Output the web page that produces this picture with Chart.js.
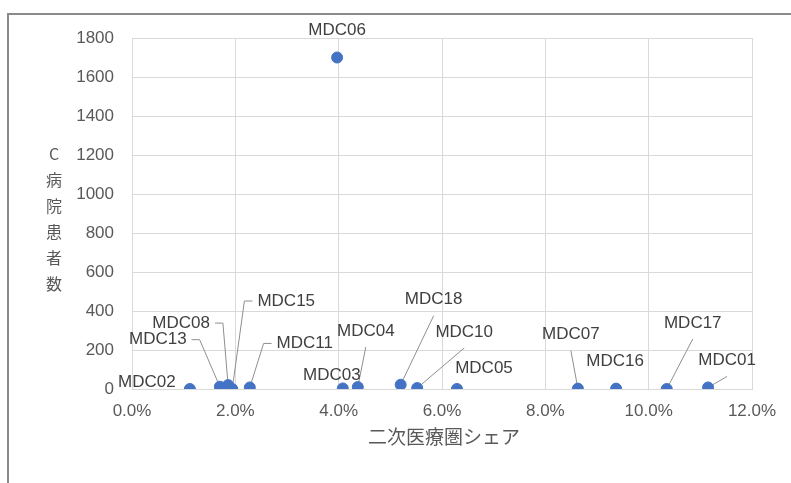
<!DOCTYPE html>
<html>
<head>
<meta charset="utf-8">
<script src="https://cdn.jsdelivr.net/npm/chart.js@4/dist/chart.umd.min.js"></script>
<style>
  html, body { margin: 0; padding: 0; background: #fff; }
  #wrap { width: 791px; height: 483px; position: relative; }
</style>
</head>
<body>
<div id="wrap"><canvas id="chart" width="791" height="483"></canvas></div>
<script>
// MDC categories, share of the secondary medical area (%), and hospital C patient counts
const categories = ['MDC01','MDC02','MDC03','MDC04','MDC05','MDC06','MDC07','MDC08',
                    'MDC10','MDC11','MDC13','MDC15','MDC16','MDC17','MDC18'];
const sharePercent = [11.15, 1.12, 4.08, 4.37, 6.29, 3.97, 8.63, 1.86,
                      5.52, 2.28, 1.70, 1.94, 9.37, 10.35, 5.20];
const patientCounts = [8, 0, 3, 10, 0, 1700, 2, 20,
                       5, 8, 12, 0, 2, 0, 22];

const xTicks = [0, 2, 4, 6, 8, 10, 12];
const yTicks = [0, 200, 400, 600, 800, 1000, 1200, 1400, 1600, 1800];
const xTitle = '二次医療圏シェア';
const yTitleChars = ['C', '病', '院', '患', '者', '数'];

// label placement: offset of the label centre from its point, and where its leader line leaves
const labelLayout = {
  MDC01: { dx: 19,  dy: -27, leader: 'bottom' },
  MDC02: { dx: -43, dy: -7,  leader: 'none' },
  MDC03: { dx: -11, dy: -13, leader: 'none' },
  MDC04: { dx: 8,   dy: -56, leader: 'bottom' },
  MDC05: { dx: 27,  dy: -21, leader: 'none' },
  MDC06: { dx: 0,   dy: -27, leader: 'none' },
  MDC07: { dx: -7,  dy: -54, leader: 'bottom' },
  MDC08: { dx: -47, dy: -62, leader: 'right' },
  MDC10: { dx: 47,  dy: -56, leader: 'bottom' },
  MDC11: { dx: 55,  dy: -44, leader: 'left' },
  MDC13: { dx: -62, dy: -47, leader: 'right' },
  MDC15: { dx: 54,  dy: -88, leader: 'left' },
  MDC16: { dx: -1,  dy: -27, leader: 'none' },
  MDC17: { dx: 26,  dy: -66, leader: 'bottom' },
  MDC18: { dx: 33,  dy: -85, leader: 'bottom' }
};

const LATIN = '"Liberation Sans", Arial, sans-serif';
const CJK = '"Noto Sans CJK JP", "Noto Sans", sans-serif';
const POINT_COLOR = '#4472C4';

const points = categories.map((c, i) => ({ x: sharePercent[i], y: patientCounts[i], name: c }));

// data labels with leader lines
const labelPlugin = {
  id: 'mdcLabels',
  beforeDatasetsDraw(chart) {
    const ctx = chart.ctx;
    const meta = chart.getDatasetMeta(0);
    ctx.save();
    ctx.font = '17px ' + LATIN;
    ctx.strokeStyle = '#8f8f8f';
    ctx.lineWidth = 1;
    meta.data.forEach((el, i) => {
      const lay = labelLayout[categories[i]];
      if (!lay || lay.leader === 'none') return;
      const cx = el.x + lay.dx, cy = el.y + lay.dy;
      const w = ctx.measureText(categories[i]).width;
      ctx.beginPath();
      if (lay.leader === 'bottom') {
        ctx.moveTo(cx, cy + 16);
      } else if (lay.leader === 'right') {
        ctx.moveTo(cx + w / 2 + 5, cy);
        ctx.lineTo(cx + w / 2 + 13, cy);
      } else {
        ctx.moveTo(cx - w / 2 - 5, cy);
        ctx.lineTo(cx - w / 2 - 13, cy);
      }
      ctx.lineTo(el.x, el.y);
      ctx.stroke();
    });
    ctx.restore();
  },
  afterDatasetsDraw(chart) {
    const ctx = chart.ctx;
    const meta = chart.getDatasetMeta(0);
    ctx.save();
    ctx.font = '17px ' + LATIN;
    ctx.fillStyle = '#404040';
    ctx.textAlign = 'center';
    ctx.textBaseline = 'middle';
    meta.data.forEach((el, i) => {
      const lay = labelLayout[categories[i]] || { dx: 0, dy: -20 };
      ctx.fillText(categories[i], el.x + lay.dx, el.y + lay.dy);
    });
    ctx.restore();
  },
  afterDraw(chart) {
    const ctx = chart.ctx;
    const area = chart.chartArea;
    ctx.save();
    // outer frame (top and left edges)
    ctx.strokeStyle = '#8a8a8a';
    ctx.lineWidth = 2;
    ctx.beginPath();
    ctx.moveTo(8, chart.height);
    ctx.lineTo(8, 14);
    ctx.lineTo(chart.width, 14);
    ctx.stroke();
    // axis titles
    ctx.fillStyle = '#595959';
    ctx.textAlign = 'center';
    ctx.textBaseline = 'middle';
    ctx.font = '19px ' + CJK;
    ctx.fillText(xTitle, (area.left + area.right) / 2 + 2, 437);
    ctx.font = '16px ' + CJK;
    yTitleChars.forEach((ch, k) => {
      ctx.fillText(ch, 54, 154 + k * 26);
    });
    ctx.restore();
  }
};

new Chart(document.getElementById('chart'), {
  type: 'scatter',
  data: {
    datasets: [{
      data: points,
      backgroundColor: POINT_COLOR,
      borderColor: POINT_COLOR,
      borderWidth: 1,
      pointRadius: 5.5,
      pointHoverRadius: 5.5
    }]
  },
  options: {
    responsive: false,
    animation: false,
    events: [],
    layout: { padding: { top: 38, right: 39, left: 0, bottom: 0 } },
    plugins: {
      legend: { display: false },
      tooltip: { enabled: false }
    },
    scales: {
      x: {
        type: 'linear',
        min: 0,
        max: 12,
        afterBuildTicks: (s) => { s.ticks = xTicks.map(v => ({ value: v })); },
        afterFit: (s) => { s.height = 94; },
        ticks: {
          padding: 12,
          color: '#595959',
          font: { family: LATIN, size: 17 },
          callback: (v) => v.toFixed(1) + '%'
        },
        grid: { color: '#d9d9d9', drawTicks: false },
        border: { color: '#d9d9d9' }
      },
      y: {
        type: 'linear',
        min: 0,
        max: 1800,
        afterBuildTicks: (s) => { s.ticks = yTicks.map(v => ({ value: v })); },
        afterFit: (s) => { s.width = 132; },
        ticks: {
          padding: 18,
          color: '#595959',
          font: { family: LATIN, size: 17 },
          callback: (v) => String(v)
        },
        grid: { color: '#d9d9d9', drawTicks: false },
        border: { color: '#d9d9d9' }
      }
    }
  },
  plugins: [labelPlugin]
});
</script>
</body>
</html>
